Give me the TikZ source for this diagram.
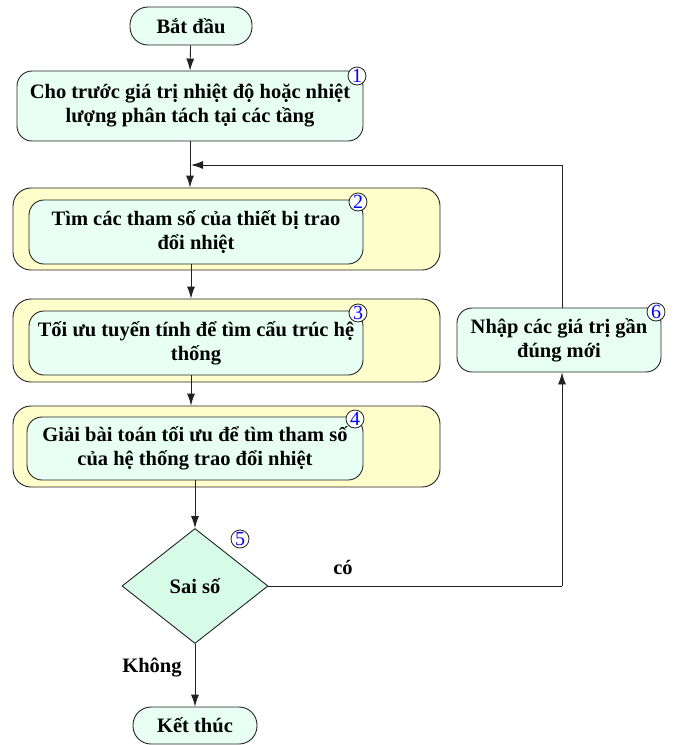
\documentclass[tikz,border=0pt]{standalone}
\usepackage{fontspec}
\setmainfont{Liberation Serif}
\usetikzlibrary{shapes.geometric,arrows.meta}
\definecolor{mint}{HTML}{E8FFF3}
\definecolor{pale}{HTML}{FFFFCC}
\definecolor{dmint}{HTML}{D6FCE8}
\definecolor{ln}{HTML}{222222}
\begin{document}
\begin{tikzpicture}[x=1pt,y=-1pt,
  every node/.style={font=\fontsize{20.5}{24}\selectfont\bfseries, text=black},
  term/.style={draw=ln, fill=mint, rounded corners=18pt, line width=0.9pt, inner sep=0pt},
  inbox/.style={draw=ln, fill=mint, rounded corners=15pt, line width=0.9pt, align=center, inner sep=0pt},
  outbox/.style={draw=ln, fill=pale, rounded corners=18pt, line width=0.9pt, inner sep=0pt},
  num/.style={circle, draw=ln, fill=white, line width=0.8pt, inner sep=0pt, minimum size=18pt, font=\fontsize{20}{20}\selectfont, text=blue},
  arr/.style={draw=ln, line width=0.9pt, -{Latex[length=12pt,width=8pt]}},
  ln/.style={draw=ln, line width=0.9pt}
]
\useasboundingbox (0,0) rectangle (673,745);
% start
\node[term, minimum width=122pt, minimum height=38pt] (s) at (191,26) {Bắt đầu};
% box 1
\node[inbox, minimum width=346pt, minimum height=70pt] (b1) at (190,106) {Cho trước giá trị nhiệt độ hoặc nhiệt\\lượng phân tách tại các tầng};
\node[num] (n1) at (357,76) {1};
% box 2
\node[outbox, minimum width=427pt, minimum height=82pt] (o2) at (226.5,229) {};
\node[inbox, minimum width=334pt, minimum height=64pt] (b2) at (196,232) {Tìm các tham số của thiết bị trao\\đổi nhiệt};
\node[num] (n2) at (358,202) {2};
% box 3
\node[outbox, minimum width=427pt, minimum height=83pt] (o3) at (226.5,340.5) {};
\node[inbox, minimum width=334pt, minimum height=64pt] (b3) at (196,343) {Tối ưu tuyến tính để tìm cấu trúc hệ\\thống};
\node[num] (n3) at (358,313) {3};
% box 4
\node[outbox, minimum width=427pt, minimum height=81pt] (o4) at (226.5,446.5) {};
\node[inbox, minimum width=336pt, minimum height=63pt] (b4) at (195,448.5) {Giải bài toán tối ưu để tìm tham số\\của hệ thống trao đổi nhiệt};
\node[num] (n4) at (355,419) {4};
% diamond
\node[diamond, aspect=1.27, draw=ln, fill=dmint, line width=0.9pt, inner sep=0pt, minimum width=146pt, minimum height=115pt] (d) at (195,586) {Sai số};
\node[num] (n5) at (240,539) {5};
% end
\node[term, minimum width=124pt, minimum height=37pt] (e) at (195,725.5) {Kết thúc};
% box 6
\node[inbox, minimum width=204pt, minimum height=64pt] (b6) at (559,340) {Nhập các giá trị gần\\đúng mới};
\node[num] (n6) at (656,312) {6};
% labels
\node (co) at (343,567) {có};
\node (kh) at (152,668) {Không};
% connectors
\coordinate (j) at (191,165);
\coordinate (r) at (562,165);
\coordinate (rd) at (562,586);
\draw[arr] (s) -- (b1.south |- b1.north);
\draw[arr] (b1.south) -- (b1.south |- o2.north);
\draw[arr] (b2.south -| s.south) -- (s.south |- o3.north);
\draw[arr] (b3.south -| s.south) -- (s.south |- o4.north);
\draw[arr] (b4.south -| d.north) -- (d.north);
\draw[arr] (d.south) -- (e.north);
\draw[ln] (d.east) -- (rd);
\draw[arr] (rd) -- (rd |- b6.south);
\draw[ln] (r |- b6.north) -- (r);
\draw[arr] (r) -- (j);
\end{tikzpicture}
\end{document}
